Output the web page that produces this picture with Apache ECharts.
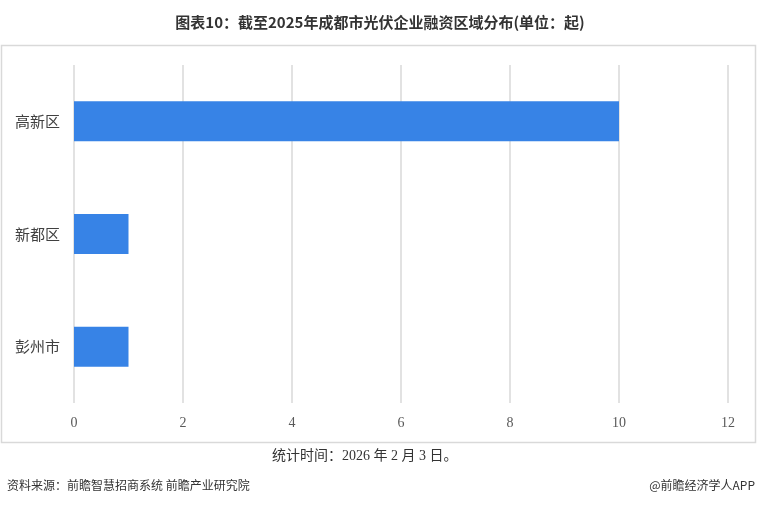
<!DOCTYPE html>
<html>
<head>
<meta charset="utf-8">
<script src="https://cdn.jsdelivr.net/npm/echarts@6/dist/echarts.min.js"></script>
<style>
  html, body { margin: 0; padding: 0; background: #fff; }
  #chart { width: 760px; height: 507px; }
</style>
</head>
<body>
<div id="chart"></div>
<script>
// 区域与融资起数
const regions = ["高新区", "新都区", "彭州市"];
const counts = [10, 1, 1];
const xTicks = [0, 2, 4, 6, 8, 10, 12];

const chart = echarts.init(document.getElementById("chart"));
const font = '"Noto Sans CJK SC", "Noto Sans", sans-serif';
const serif = '"Liberation Serif", "Noto Sans CJK SC", serif';

chart.setOption({
  animation: false,
  textStyle: { fontFamily: font },
  title: {
    text: "图表10：截至2025年成都市光伏企业融资区域分布(单位：起)",
    left: "center",
    top: 10,
    textStyle: { fontSize: 15, fontWeight: "bold", color: "#333", fontFamily: font },
  },
  graphic: [
    {
      type: "rect",
      shape: { x: 1.5, y: 45.5, width: 754, height: 397 },
      style: { fill: "none", stroke: "#d9d9d9", lineWidth: 1.5 },
      z: -1,
    },
    {
      type: "text",
      left: 272,
      top: 449,
      style: { text: "统计时间：2026 年 2 月 3 日。", fontSize: 14, fill: "#333", fontFamily: serif },
    },
    {
      type: "text",
      left: 7,
      top: 479,
      style: { text: "资料来源：前瞻智慧招商系统 前瞻产业研究院", fontSize: 12, fill: "#333", fontFamily: font },
    },
    {
      type: "text",
      right: 5,
      top: 479,
      style: { text: "@前瞻经济学人APP", fontSize: 12, fill: "#333", fontFamily: font },
    },
  ],
  grid: { left: 74, right: 32, top: 65, bottom: 104 },
  xAxis: {
    type: "value",
    min: 0,
    max: xTicks[xTicks.length - 1],
    interval: 2,
    axisLine: { show: false },
    axisTick: { show: false },
    axisLabel: { color: "#595959", fontSize: 14, margin: 13, fontFamily: serif },
    splitLine: { lineStyle: { color: "#d9d9d9", width: 1.5 } },
  },
  yAxis: {
    type: "category",
    data: regions,
    inverse: true,
    axisLine: { show: false },
    axisTick: { show: false },
    axisLabel: { color: "#404040", fontSize: 15, margin: 14 },
  },
  series: [
    {
      type: "bar",
      data: counts,
      barWidth: "35.5%",
      itemStyle: { color: "#3783e6" },
    },
  ],
});
</script>
</body>
</html>
